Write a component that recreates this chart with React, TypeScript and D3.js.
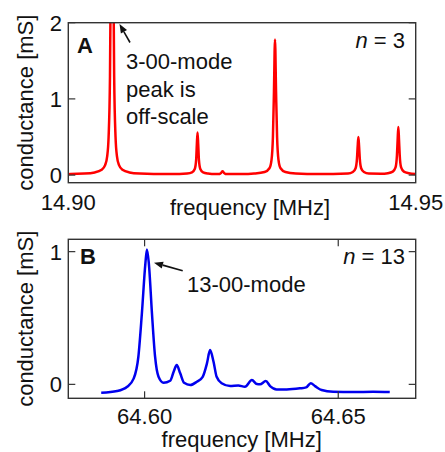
import React from "react";
import * as d3 from "d3";

// Panel A (n = 3)
const freqA = [
  14.9, 14.9003, 14.9023, 14.9038, 14.9048, 14.9053, 14.9056, 14.9058, 14.906, 14.9061, 14.9063,
  14.9065, 14.9066, 14.9068, 14.907, 14.9073, 14.9078, 14.9088, 14.9103, 14.9123, 14.916,
  14.9171, 14.9178, 14.9182, 14.9184, 14.9185, 14.9186, 14.9187, 14.9188, 14.919, 14.9194, 14.9201, 14.9212,
  14.9218, 14.922, 14.9222, 14.9224, 14.9226, 14.925,
  14.92675, 14.92825, 14.92895, 14.92925, 14.92945, 14.9296, 14.92975, 14.9299, 14.93005, 14.93025, 14.93055, 14.93125, 14.93275, 14.936,
  14.94025, 14.94095, 14.94135, 14.94155, 14.94165, 14.94175, 14.94185, 14.94195, 14.94215, 14.94255, 14.94325, 14.945,
  14.946, 14.9467, 14.9471, 14.9473, 14.9474, 14.9475, 14.9476, 14.9477, 14.9479, 14.9483, 14.949, 14.95,
];
const condA = [
  0.012, 0.015, 0.02, 0.035, 0.07, 0.13, 0.25, 0.5, 1.3, 2.5, 8,
  2.5, 1.3, 0.5, 0.25, 0.13, 0.07, 0.035, 0.02, 0.015, 0.015,
  0.02, 0.035, 0.08, 0.2, 0.4, 0.56, 0.4, 0.2, 0.08, 0.035, 0.02, 0.013,
  0.015, 0.03, 0.05, 0.03, 0.015, 0.013,
  0.02, 0.04, 0.09, 0.2, 0.5, 1.1, 1.78, 1.1, 0.5, 0.2, 0.09, 0.04, 0.02, 0.013,
  0.02, 0.04, 0.09, 0.22, 0.38, 0.5, 0.38, 0.22, 0.09, 0.04, 0.02, 0.018,
  0.025, 0.045, 0.1, 0.26, 0.46, 0.63, 0.46, 0.26, 0.1, 0.045, 0.025, 0.015,
];

// Panel B (n = 13)
const freqB = [
  64.5888, 64.5929, 64.5955, 64.5972, 64.5984, 64.5993, 64.6002, 64.6006, 64.6011, 64.6019, 64.6027,
  64.6036, 64.6049, 64.6066, 64.6075, 64.6083, 64.6092, 64.6102, 64.6118, 64.6135, 64.615, 64.6161,
  64.6169, 64.6178, 64.6186, 64.6199, 64.6221, 64.6242, 64.6259, 64.6277, 64.629, 64.6298, 64.6313,
  64.6324, 64.6341, 64.6367, 64.6401, 64.6417, 64.6429, 64.644, 64.6457, 64.6487, 64.6539, 64.659, 64.6633,
];
const condB = [
  -0.063, -0.05, -0.018, 0.045, 0.21, 0.535, 0.91, 1.017, 0.91, 0.535, 0.21,
  0.057, 0.012, 0.027, 0.095, 0.145, 0.083, 0.012, -0.005, 0.02, 0.057, 0.158,
  0.258, 0.17, 0.057, 0.008, -0.013, -0.008, -0.018, 0.032, 0.002, 0.0, 0.025,
  -0.013, -0.038, -0.038, -0.03, -0.023, 0.008, -0.013, -0.043, -0.056, -0.058, -0.056, -0.058,
];

const xTicksA = [14.9, 14.95];
const xTickLabelsA = ["14.90", "14.95"];
const yTicksA = [0, 1, 2];
const xTicksB = [64.6, 64.65];
const xTickLabelsB = ["64.60", "64.65"];
const yTicksB = [0, 1];

const FONT = "'Liberation Sans', Arial, Helvetica, sans-serif";
const FS = 22;
const TXT = "#111";
const FRAME = "#333";

const L = 68.3, R = 415.7;

function Arrow({ x1, y1, x2, y2 }: { x1: number; y1: number; x2: number; y2: number }) {
  const ang = Math.atan2(y2 - y1, x2 - x1);
  const hl = 9, hw = 3.5;
  const bx = x2 - hl * Math.cos(ang), by = y2 - hl * Math.sin(ang);
  const px = -Math.sin(ang) * hw, py = Math.cos(ang) * hw;
  return (
    <g>
      <line x1={x1} y1={y1} x2={bx} y2={by} stroke="#111" strokeWidth={1.6} />
      <polygon points={`${x2},${y2} ${bx + px},${by + py} ${bx - px},${by - py}`} fill="#111" />
    </g>
  );
}

export default function App() {
  // Panel A scales
  const xA = d3.scaleLinear().domain([14.9, 14.95]).range([L, R]);
  const yA = d3.scaleLinear().domain([-0.1, 2]).range([182.7, 22.7]);
  const lineA = d3
    .line<number>()
    .x((_, i) => xA(freqA[i]))
    .y((d) => yA(d))
    .curve(d3.curveMonotoneX);

  // Panel B scales
  const xB = d3.scaleLinear().domain([64.5803, 64.67]).range([L, R]);
  const yB = d3.scaleLinear().domain([-0.105, 1.093]).range([398.3, 239.3]);
  const lineB = d3
    .line<number>()
    .x((_, i) => xB(freqB[i]))
    .y((d) => yB(d))
    .curve(d3.curveMonotoneX);

  const tl = 7;

  return (
    <svg
      width={445}
      height={452}
      style={{ position: "absolute", left: 0, top: 0, background: "#fff" }}
      fontFamily={FONT}
    >
      <defs>
        <clipPath id="clipA">
          <rect x={L} y={22.7} width={R - L} height={160} />
        </clipPath>
        <clipPath id="clipB">
          <rect x={L} y={239.3} width={R - L} height={159} />
        </clipPath>
      </defs>

      {/* ---------- Panel A ---------- */}
      <path d={lineA(condA) || ""} fill="none" stroke="#ff0000" strokeWidth={2.5} clipPath="url(#clipA)" strokeLinejoin="round" />
      <rect x={L} y={22.7} width={R - L} height={160} fill="none" stroke={FRAME} strokeWidth={1.4} />
      {yTicksA.map((t) => (
        <g key={"ya" + t}>
          <line x1={L} x2={L + tl} y1={yA(t)} y2={yA(t)} stroke={FRAME} strokeWidth={1.2} />
          <line x1={R} x2={R - tl} y1={yA(t)} y2={yA(t)} stroke={FRAME} strokeWidth={1.2} />
          <text x={62} y={yA(t)} dy="0.36em" textAnchor="end" fontSize={FS} fill={TXT}>
            {t}
          </text>
        </g>
      ))}
      {xTicksA.map((t, i) => (
        <text key={"xa" + t} x={xA(t)} y={210} textAnchor="middle" fontSize={FS} fill={TXT}>
          {xTickLabelsA[i]}
        </text>
      ))}
      <text x={250} y={215} textAnchor="middle" fontSize={FS} fill={TXT}>
        frequency [MHz]
      </text>
      <text transform={`translate(33,${(22.7 + 182.7) / 2}) rotate(-90)`} textAnchor="middle" fontSize={FS} fill={TXT}>
        conductance [mS]
      </text>
      <text x={77} y={53} fontSize={FS} fontWeight="bold" fill={TXT}>
        A
      </text>
      <text x={405} y={48} textAnchor="end" fontSize={FS} fill={TXT}>
        <tspan fontStyle="italic">n</tspan> = 3
      </text>
      <text x={126} y={69} fontSize={FS} fill={TXT}>3-00-mode</text>
      <text x={126} y={97} fontSize={FS} fill={TXT}>peak is</text>
      <text x={126} y={124} fontSize={FS} fill={TXT}>off-scale</text>
      <Arrow x1={130} y1={42.5} x2={119.5} y2={24} />

      {/* ---------- Panel B ---------- */}
      <path d={lineB(condB) || ""} fill="none" stroke="#0000ee" strokeWidth={2.5} clipPath="url(#clipB)" strokeLinejoin="round" />
      <rect x={L} y={239.3} width={R - L} height={159} fill="none" stroke={FRAME} strokeWidth={1.4} />
      {yTicksB.map((t) => (
        <g key={"yb" + t}>
          <line x1={L} x2={L + tl} y1={yB(t)} y2={yB(t)} stroke={FRAME} strokeWidth={1.2} />
          <line x1={R} x2={R - tl} y1={yB(t)} y2={yB(t)} stroke={FRAME} strokeWidth={1.2} />
          <text x={62} y={yB(t)} dy="0.36em" textAnchor="end" fontSize={FS} fill={TXT}>
            {t}
          </text>
        </g>
      ))}
      {xTicksB.map((t, i) => (
        <g key={"xb" + t}>
          <line x1={xB(t)} x2={xB(t)} y1={398.3} y2={398.3 - tl} stroke={FRAME} strokeWidth={1.2} />
          <line x1={xB(t)} x2={xB(t)} y1={239.3} y2={239.3 + tl} stroke={FRAME} strokeWidth={1.2} />
          <text x={xB(t)} y={424} textAnchor="middle" fontSize={FS} fill={TXT}>
            {xTickLabelsB[i]}
          </text>
        </g>
      ))}
      <text x={241.7} y={446.5} textAnchor="middle" fontSize={FS} fill={TXT}>
        frequency [MHz]
      </text>
      <text transform={`translate(33,${(239.3 + 398.3) / 2}) rotate(-90)`} textAnchor="middle" fontSize={FS} fill={TXT}>
        conductance [mS]
      </text>
      <text x={80} y={264} fontSize={FS} fontWeight="bold" fill={TXT}>
        B
      </text>
      <text x={405} y={264} textAnchor="end" fontSize={FS} fill={TXT}>
        <tspan fontStyle="italic">n</tspan> = 13
      </text>
      <text x={187} y={292} fontSize={FS} fill={TXT}>13-00-mode</text>
      <Arrow x1={182.7} y1={270.7} x2={154} y2={262.7} />
    </svg>
  );
}
